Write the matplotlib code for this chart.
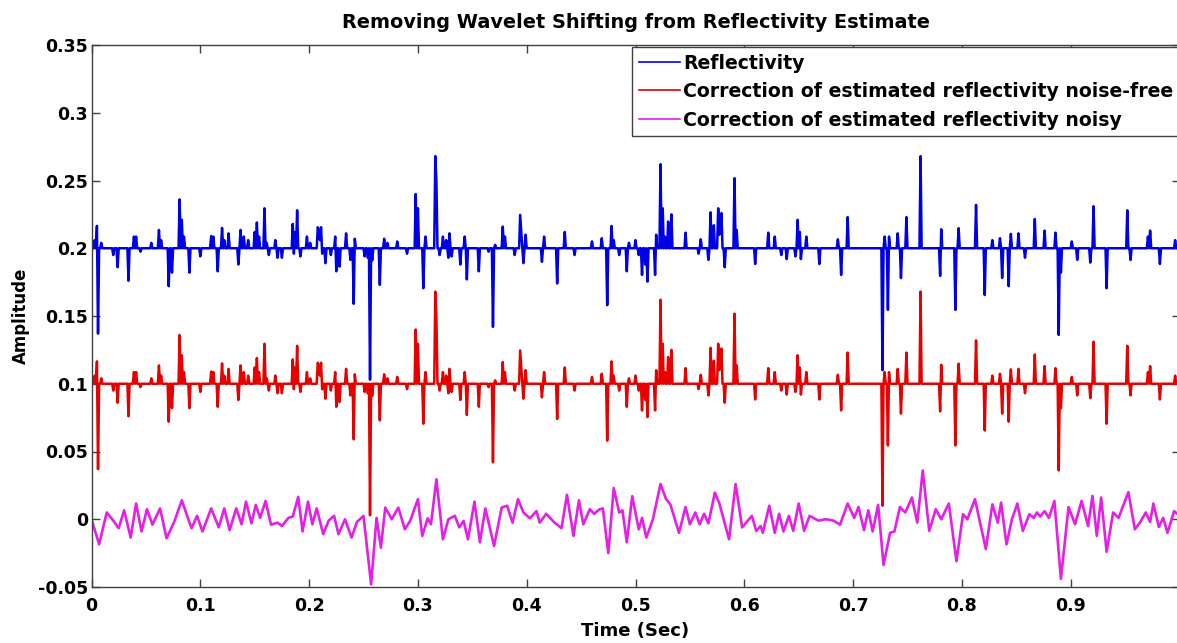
import numpy as np
import matplotlib
matplotlib.use('Agg')
import matplotlib.pyplot as plt
from matplotlib.ticker import FixedLocator, FixedFormatter

plt.rcParams['font.family'] = ['DejaVu Sans']
plt.rcParams['font.weight'] = 'bold'

# sparse reflectivity series, 1 ms sampling, 1 s long
n_samples = 1000
refl_ms = [3, 5, 6, 9, 20, 24, 34, 39, 41, 45, 55, 62, 64, 71, 74, 81, 83, 85, 90,
           100, 110, 112, 116, 120, 122, 126, 135, 137, 140, 144, 150, 152, 154,
           159, 161, 163, 169, 171, 175, 185, 186, 187, 189, 192, 198, 201, 208,
           209, 210, 211, 212, 215, 220, 224, 225, 228, 234, 238, 241, 242, 251,
           254, 256, 258, 265, 269, 272, 281, 290, 298, 300, 305, 307, 316, 317,
           320, 323, 326, 328, 329, 331, 339, 343, 345, 356, 365, 369, 371, 378,
           380, 389, 394, 395, 397, 399, 414, 416, 428, 435, 444, 460, 469, 474,
           478, 480, 485, 492, 494, 500, 503, 506, 509, 511, 518, 519, 523, 525,
           527, 530, 533, 546, 558, 560, 567, 569, 572, 576, 577, 578, 579, 582,
           591, 593, 610, 622, 628, 634, 639, 647, 649, 651, 652, 657, 669, 686,
           689, 695, 727, 729, 732, 733, 741, 744, 749, 762, 780, 781, 794, 797,
           813, 821, 828, 835, 837, 843, 845, 852, 858, 867, 876, 886, 889, 891,
           901, 906, 918, 921, 933, 952, 955, 971, 973, 982, 996]
refl_amp = [0.006, 0.0165, -0.063, 0.004, -0.005, -0.014, -0.024, 0.0086, 0.0086,
            -0.0025, 0.004, 0.0135, 0.006, -0.028, -0.018, 0.036, 0.021, 0.0086,
            -0.018, -0.006, 0.009, 0.0086, -0.017, 0.015, 0.006, 0.011, -0.012,
            0.0135, 0.0086, 0.006, 0.012, 0.019, 0.0086, 0.0295, 0.004, -0.005,
            0.006, -0.007, -0.007, 0.018, -0.004, 0.012, 0.028, -0.006, 0.0086,
            0.004, 0.0155, 0.012, 0.006, 0.0155, -0.004, -0.011, -0.005, 0.0086,
            -0.017, -0.0135, 0.011, -0.0086, -0.041, 0.007, -0.006, -0.007,
            -0.097, -0.009, -0.027, 0.007, 0.004, 0.005, -0.004, 0.040, 0.0295,
            -0.0295, 0.0086, 0.068, 0.050, -0.005, 0.0086, 0.006, -0.007, 0.011,
            -0.006, -0.012, 0.0086, -0.023, -0.017, -0.0025, -0.058, 0.0025,
            0.016, 0.0086, -0.005, 0.0246, 0.012, -0.011, 0.010, -0.010, 0.0086,
            -0.026, 0.012, -0.005, 0.005, 0.0074, -0.042, 0.0165, 0.006, -0.005,
            -0.017, 0.004, 0.006, -0.005, -0.0197, -0.012, -0.0246, -0.0197,
            0.010, 0.062, 0.0295, 0.0086, 0.0197, 0.025, 0.0115, -0.004, 0.0066,
            -0.0086, 0.0265, 0.017, 0.0295, 0.010, 0.016, 0.026, -0.014, 0.0517,
            0.0135, -0.0116, 0.0115, 0.0086, -0.005, -0.008, -0.006, 0.021, 0.012,
            -0.008, 0.0086, -0.0116, 0.0066, -0.0197, 0.023, -0.090, 0.0086,
            -0.0455, 0.0086, 0.011, -0.022, 0.023, 0.068, -0.0204, 0.014, -0.0455,
            0.0148, 0.032, -0.0345, 0.006, 0.0074, -0.022, -0.028, 0.0106, 0.011,
            -0.007, 0.0216, 0.013, 0.0115, -0.064, -0.018, 0.005, -0.0086, -0.0106,
            0.031, -0.0295, 0.028, -0.0086, 0.0086, 0.013, -0.0116, 0.006]

# corrected estimate from the noisy trace (band-limited)
noisy_ms = [0, 7, 14, 20, 25, 30, 36, 41, 46, 51, 56, 63, 69, 76, 83, 89, 92, 97,
            102, 110, 117, 122, 127, 133, 138, 142, 147, 151, 155, 160, 165, 171,
            175, 181, 185, 190, 194, 199, 203, 207, 213, 218, 223, 227, 233, 239,
            244, 250, 257, 262, 266, 270, 276, 282, 288, 293, 300, 304, 309, 312,
            317, 323, 328, 334, 338, 342, 346, 352, 357, 362, 370, 377, 382, 387,
            392, 397, 403, 409, 412, 418, 425, 432, 437, 443, 448, 452, 458, 462,
            467, 470, 475, 480, 485, 488, 492, 497, 503, 506, 510, 516, 523, 528,
            532, 540, 546, 550, 555, 559, 563, 567, 573, 577, 586, 592, 598, 607,
            611, 615, 617, 623, 628, 632, 636, 641, 645, 650, 655, 660, 668, 675,
            682, 688, 695, 701, 705, 710, 714, 718, 723, 728, 734, 738, 743, 748,
            754, 759, 764, 770, 776, 781, 788, 795, 801, 805, 812, 822, 828, 833,
            836, 841, 846, 851, 856, 862, 866, 869, 872, 876, 880, 885, 891, 898,
            904, 910, 916, 920, 924, 928, 933, 939, 944, 953, 959, 964, 969, 973,
            976, 981, 985, 989, 995, 998]
noisy_amp = [0.0, -0.0185, 0.005, -0.001, -0.0066, 0.0066, -0.0135, 0.0116, -0.009,
             0.0074, -0.004, 0.008, -0.014, -0.002, 0.014, 0.0, -0.0066, 0.0025,
             -0.009, 0.008, -0.006, 0.008, -0.008, 0.008, -0.0037, 0.013, -0.003,
             0.0106, 0.001, 0.0135, -0.004, -0.0025, -0.005, 0.001, 0.002, 0.0165,
             -0.009, 0.013, -0.0037, 0.008, -0.011, -0.001, 0.0025, -0.011, 0.0,
             -0.0135, -0.002, 0.0025, -0.048, 0.001, -0.021, 0.0086, 0.0, 0.0086,
             -0.0074, -0.001, 0.0148, -0.0123, 0.0007, -0.0037, 0.0295, -0.0148,
             0.0, 0.0025, -0.006, -0.0012, -0.0148, 0.013, -0.017, 0.008, -0.0197,
             0.0086, 0.010, -0.0025, 0.0148, 0.005, 0.0007, 0.006, -0.0025, 0.004,
             -0.002, -0.0066, 0.018, -0.0123, 0.014, -0.0037, 0.0074, 0.004, 0.0074,
             0.008, -0.025, 0.023, 0.005, 0.0066, -0.017, 0.017, -0.0074, 0.001,
             -0.0135, 0.0, 0.026, 0.015, 0.011, -0.010, 0.009, -0.0037, 0.005,
             -0.0037, 0.004, -0.003, 0.0197, 0.012, -0.0148, 0.026, -0.006, 0.0025,
             -0.0086, -0.005, -0.010, 0.010, -0.010, 0.004, -0.009, 0.0025, -0.0086,
             0.0116, -0.0086, 0.0025, -0.001, 0.0, -0.001, -0.004, 0.0116, 0.001,
             0.009, -0.008, 0.0066, -0.009, 0.0106, -0.0337, -0.010, -0.009, 0.009,
             0.005, 0.016, -0.0025, 0.036, -0.0086, 0.0074, 0.0, 0.0116, -0.031,
             0.0037, 0.0, 0.0148, -0.022, 0.011, -0.0025, 0.0123, -0.0185, 0.0,
             0.0116, -0.0086, 0.0037, 0.001, 0.005, 0.002, 0.006, 0.001, 0.0135,
             -0.044, 0.009, -0.0037, 0.0135, -0.005, 0.0172, -0.0123, 0.016, -0.024,
             0.005, 0.001, 0.020, -0.0074, -0.002, 0.005, -0.002, 0.0116, -0.0057,
             0.001, -0.010, 0.006, 0.004]

# vertical offsets used to stack the traces
refl_offset = 0.2
corr_offset = 0.1

xtick_vals = [0, 0.1, 0.2, 0.3, 0.4, 0.5, 0.6, 0.7, 0.8, 0.9, 1.0]
xtick_text = ['0', '0.1', '0.2', '0.3', '0.4', '0.5', '0.6', '0.7', '0.8', '0.9', '']
ytick_vals = [-0.05, 0, 0.05, 0.1, 0.15, 0.2, 0.25, 0.3, 0.35]
ytick_text = ['-0.05', '0', '0.05', '0.1', '0.15', '0.2', '0.25', '0.3', '0.35']

labels = ['Reflectivity',
          'Correction of estimated reflectivity noise-free',
          'Correction of estimated reflectivity noisy']


t = np.arange(n_samples) / 1000.0
refl = np.zeros(n_samples)
refl[refl_ms] = refl_amp
t_noisy = np.array(noisy_ms) / 1000.0

fig = plt.figure(figsize=(11.77, 6.43), dpi=100)
ax = fig.add_axes([91.5 / 1177, 56 / 643, 1088 / 1177, 542 / 643])

ax.plot(t, refl + refl_offset, color='#0000e6', lw=1.8, label=labels[0])
ax.plot(t, refl + corr_offset, color='#e60000', lw=1.8, label=labels[1])
ax.plot(t_noisy, noisy_amp, color='#e61ee6', lw=1.9, label=labels[2],
        solid_joinstyle='round')

ax.set_xlim(0, 1)
ax.set_ylim(-0.05, 0.35)
ax.xaxis.set_major_locator(FixedLocator(xtick_vals))
ax.xaxis.set_major_formatter(FixedFormatter(xtick_text))
ax.yaxis.set_major_locator(FixedLocator(ytick_vals))
ax.yaxis.set_major_formatter(FixedFormatter(ytick_text))
ax.tick_params(direction='in', length=6, width=1, color='#404040',
               top=True, right=True, labelsize=12.5)
ax.tick_params(axis='x', pad=7)
ax.tick_params(axis='y', pad=2.5)
for sp in ax.spines.values():
    sp.set_color('#404040')
    sp.set_linewidth(1)

ax.set_title('Removing Wavelet Shifting from Reflectivity Estimate',
             fontsize=13.9, fontweight='bold', pad=12)
ax.set_xlabel('Time (Sec)', fontsize=13, fontweight='bold', labelpad=5)
ax.set_ylabel('Amplitude', fontsize=12, fontweight='bold', labelpad=6)

leg = ax.legend(loc='upper left', bbox_to_anchor=(632 / 1177, 1 - 47 / 643),
                bbox_transform=fig.transFigure, fontsize=13.6, handlelength=2.2,
                handletextpad=0.16, borderaxespad=0, borderpad=0.35,
                labelspacing=0.5, fancybox=False, framealpha=1,
                edgecolor='#404040')
leg.get_frame().set_linewidth(1)
for line in leg.get_lines():
    line.set_linewidth(1.2)

fig.savefig('out.png', dpi=100)
